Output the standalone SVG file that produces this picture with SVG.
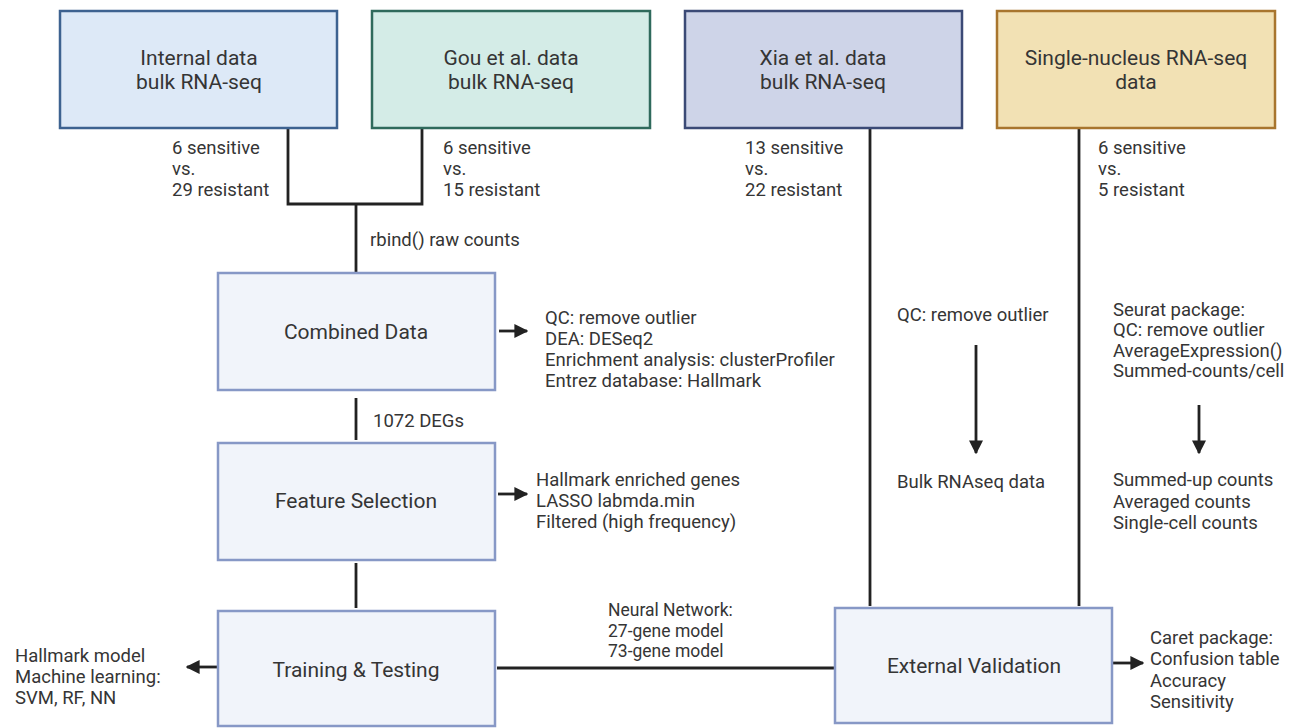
<svg xmlns="http://www.w3.org/2000/svg" width="1291" height="728" viewBox="0 0 1291 728">
<defs>
<marker id="ah" markerWidth="5" markerHeight="5" refX="4.5" refY="2.5" orient="auto" markerUnits="strokeWidth">
<path d="M0,0 L5,2.5 L0,5 Z" fill="#222"/>
</marker>
</defs>
<style>
text{font-family:Roboto,"Liberation Sans",sans-serif;fill:#353535}
.t{font-size:21px;text-anchor:middle}
.s{font-size:18.5px}
.n{font-size:17.5px}
.box{fill:#f1f4fa;stroke:#8798c6;stroke-width:2.5}
.ln{stroke:#222;stroke-width:2.8;fill:none}
.ar{stroke:#222;stroke-width:2.8;fill:none;marker-end:url(#ah)}
</style>
<rect width="1291" height="728" fill="#fff"/>
<g id="connectors">
<path class="ln" d="M288,129 V204 H422 V129"/>
<path class="ln" d="M356,204 V273"/>
<path class="ln" d="M356,398 V440"/>
<path class="ln" d="M356,563 V608"/>
<path class="ln" d="M870,129 V606"/>
<path class="ln" d="M1079,126 V606"/>
<path class="ln" d="M497,668 H835"/>
<path class="ar" d="M499,331 H527"/>
<path class="ar" d="M498,494 H527"/>
<path class="ar" d="M218,667 H187"/>
<path class="ar" d="M1113,663 H1143"/>
<path class="ar" d="M976,345 V453"/>
<path class="ar" d="M1199,405 V453"/>
</g>
<g id="internal">
<rect x="60" y="11" width="277" height="117" fill="#dde9f7" stroke="#3d6290" stroke-width="2.5"/>
<text class="t" x="199" y="65">Internal data</text>
<text class="t" x="199" y="89">bulk RNA-seq</text>
</g>
<g id="gou">
<rect x="372" y="11" width="278" height="117" fill="#d4ece7" stroke="#2f6a5c" stroke-width="2.5"/>
<text class="t" x="511" y="65">Gou et al. data</text>
<text class="t" x="511" y="89">bulk RNA-seq</text>
</g>
<g id="xia">
<rect x="685" y="11" width="277" height="117" fill="#ced4e8" stroke="#3b4a76" stroke-width="2.5"/>
<text class="t" x="823" y="65">Xia et al. data</text>
<text class="t" x="823" y="89">bulk RNA-seq</text>
</g>
<g id="single">
<rect x="997" y="11" width="278" height="117" fill="#f2e1b4" stroke="#a8752e" stroke-width="2.5"/>
<text class="t" x="1136" y="65">Single-nucleus RNA-seq</text>
<text class="t" x="1136" y="89">data</text>
</g>
<g id="labels-top">
<text class="s" x="172" y="154">6 sensitive</text>
<text class="s" x="172" y="175">vs.</text>
<text class="s" x="172" y="196">29 resistant</text>
<text class="s" x="443" y="154">6 sensitive</text>
<text class="s" x="443" y="175">vs.</text>
<text class="s" x="443" y="196">15 resistant</text>
<text class="s" x="745" y="154">13 sensitive</text>
<text class="s" x="745" y="175">vs.</text>
<text class="s" x="745" y="196">22 resistant</text>
<text class="s" x="1098" y="154">6 sensitive</text>
<text class="s" x="1098" y="175">vs.</text>
<text class="s" x="1098" y="196">5 resistant</text>
<text class="s" x="370" y="246">rbind() raw counts</text>
<text class="s" x="373" y="427">1072 DEGs</text>
</g>
<g id="combined">
<rect class="box" x="218" y="273" width="277" height="117"/>
<text class="t" x="356" y="339">Combined Data</text>
</g>
<g id="combined-notes">
<text class="s" x="545" y="324">QC: remove outlier</text>
<text class="s" x="545" y="345">DEA: DESeq2</text>
<text class="s" x="545" y="366">Enrichment analysis: clusterProfiler</text>
<text class="s" x="545" y="387">Entrez database: Hallmark</text>
</g>
<g id="feature">
<rect class="box" x="218" y="443" width="277" height="117"/>
<text class="t" x="356" y="508">Feature Selection</text>
</g>
<g id="feature-notes">
<text class="s" x="536" y="486">Hallmark enriched genes</text>
<text class="s" x="536" y="507">LASSO labmda.min</text>
<text class="s" x="536" y="528">Filtered (high frequency)</text>
</g>
<g id="training">
<rect class="box" x="218" y="611" width="277" height="115"/>
<text class="t" x="356" y="677">Training &amp; Testing</text>
</g>
<g id="training-notes">
<text class="s" x="15" y="662">Hallmark model</text>
<text class="s" x="15" y="683">Machine learning:</text>
<text class="s" x="15" y="704">SVM, RF, NN</text>
<text class="n" x="608" y="616">Neural Network:</text>
<text class="n" x="608" y="637">27-gene model</text>
<text class="n" x="608" y="657">73-gene model</text>
</g>
<g id="external">
<rect class="box" x="835" y="608" width="277" height="115"/>
<text class="t" x="974" y="673">External Validation</text>
</g>
<g id="external-notes">
<text class="s" x="1150" y="644">Caret package:</text>
<text class="s" x="1150" y="665">Confusion table</text>
<text class="s" x="1150" y="687">Accuracy</text>
<text class="s" x="1150" y="708">Sensitivity</text>
</g>
<g id="xia-notes">
<text class="s" x="897" y="321">QC: remove outlier</text>
<text class="s" x="897" y="488">Bulk RNAseq data</text>
</g>
<g id="single-notes">
<text class="s" x="1113" y="316">Seurat package:</text>
<text class="s" x="1113" y="336">QC: remove outlier</text>
<text class="s" x="1113" y="357">AverageExpression()</text>
<text class="s" x="1113" y="377">Summed-counts/cell</text>
<text class="s" x="1113" y="486">Summed-up counts</text>
<text class="s" x="1113" y="508">Averaged counts</text>
<text class="s" x="1113" y="529">Single-cell counts</text>
</g>
</svg>
